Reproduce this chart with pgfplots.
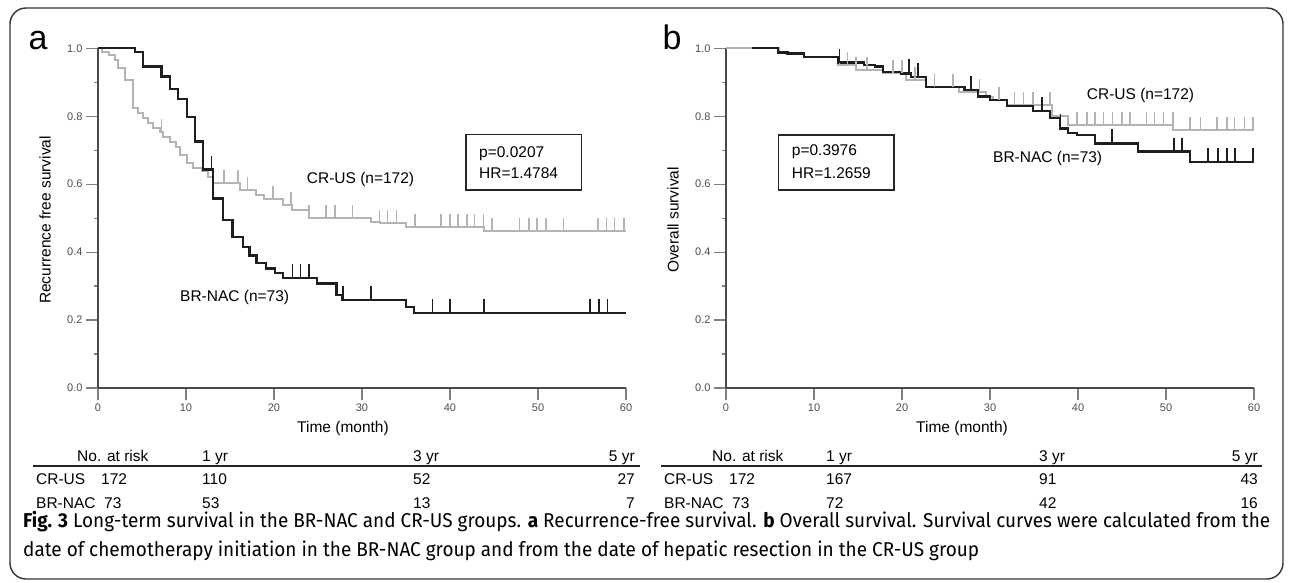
\documentclass[border=0pt]{standalone}
\usepackage{pgfplots}
\pgfplotsset{compat=1.18}
\usepackage{fontspec}
\setmainfont{Liberation Sans}
\newfontfamily\capfont{Fira Sans}

\definecolor{crus}{HTML}{B4B4B4}
\definecolor{brnac}{HTML}{1E1E1E}
\definecolor{axgray}{HTML}{4A4A4A}

% censoring tick: a short upward stroke
\pgfdeclareplotmark{cens}{\pgfpathmoveto{\pgfpointorigin}\pgfpathlineto{\pgfqpoint{0pt}{\pgfplotmarksize}}\pgfusepathqstroke}

\pgfplotsset{
  kmaxis/.style={
    scale only axis, width=528pt, height=339.7pt,
    xmin=0, xmax=60, ymin=0, ymax=1,
    axis x line*=bottom, axis y line*=left,
    axis line style={axgray, line width=1.6pt},
    xtick={0,10,20,30,40,50,60}, ytick={0,0.2,0.4,0.6,0.8,1},
    minor y tick num=1,
    xtick align=outside, ytick align=outside,
    major tick length=12pt, minor tick length=4pt,
    tick style={black!50, line width=1.2pt},
    tick label style={font=\fontsize{11}{13}\selectfont, text=black!70},
    /pgf/number format/assume math mode=true,
    yticklabel style={/pgf/number format/.cd, fixed, fixed zerofill, precision=1},
    clip=false,
  },
  grey line/.style={const plot, no marks, crus, line width=2pt},
  black line/.style={const plot, no marks, brnac, line width=2.3pt},
  grey cens/.style={only marks, mark=cens, mark size=13pt, crus, mark options={line width=1.6pt}},
  black cens/.style={only marks, mark=cens, mark size=14pt, brnac, mark options={line width=1.8pt}},
}

\newcommand{\lbl}{\fontsize{15.5}{19}\selectfont}
\newsavebox\capone
\newsavebox\captwo

\begin{document}
\sbox\capone{\capfont\fontsize{20}{24}\selectfont\textbf{Fig. 3} Long-term survival in the BR-NAC and CR-US groups. \textbf{a} Recurrence-free survival. \textbf{b} Overall survival. Survival curves were calculated from the}%
\sbox\captwo{\capfont\fontsize{20}{24}\selectfont date of chemotherapy initiation in the BR-NAC group and from the date of hepatic resection in the CR-US group}%
\pgfmathsetmacro\capsx{1247/\the\wd\capone}%
\begin{tikzpicture}[x=1pt, y=1pt]
\useasboundingbox (0,0) rectangle (1292,582);
\draw[black!80, line width=1.4pt, rounded corners=16pt] (10,574) rectangle (1283,3);

% ---------------- panel a: recurrence-free survival
\begin{axis}[kmaxis, at={(98pt,194pt)}, anchor=south west]
\addplot[grey line] coordinates {(0,1) (0.4,0.99) (1.2,0.98) (1.9,0.966) (2.3,0.941) (3.1,0.907) (4.0,0.823) (4.6,0.809) (5.1,0.794) (5.7,0.779) (6.3,0.765) (7.0,0.755) (7.4,0.74) (8.2,0.725) (8.9,0.71) (9.3,0.686) (10.1,0.661) (10.8,0.647) (11.8,0.64) (12.5,0.622) (13.1,0.604) (16.1,0.583) (18.0,0.568) (18.9,0.555) (21.0,0.539) (22.1,0.524) (24.0,0.5) (31.0,0.49) (32.0,0.485) (35.0,0.475) (43.9,0.463) (60,0.463)};
\addplot[grey cens] coordinates {(7.2,0.755) (14.3,0.604) (15.9,0.604) (17.0,0.583) (19.9,0.555) (21.9,0.539) (24.0,0.5) (25.9,0.5) (26.9,0.5) (28.9,0.5) (32.0,0.485) (32.9,0.485) (33.9,0.485) (36.0,0.475) (39.0,0.475) (40.0,0.475) (40.9,0.475) (41.9,0.475) (42.8,0.475) (43.8,0.475) (44.8,0.463) (47.9,0.463) (49.0,0.463) (49.9,0.463) (50.9,0.463) (52.9,0.463) (56.8,0.463) (57.8,0.463) (58.7,0.463) (59.8,0.463)};
\addplot[black line] coordinates {(0,1) (4.2,0.99) (5.1,0.946) (7.2,0.917) (8.2,0.88) (9.1,0.851) (10.1,0.798) (11.0,0.726) (11.9,0.643) (13.1,0.558) (14.2,0.495) (15.3,0.445) (16.5,0.416) (17.2,0.39) (18.0,0.367) (19.1,0.352) (20.1,0.338) (21.0,0.323) (24.9,0.308) (27.1,0.274) (27.8,0.259) (35.0,0.239) (35.9,0.22) (60,0.22)};
\addplot[black cens] coordinates {(12.9,0.643) (22.1,0.323) (23.0,0.323) (24.0,0.323) (27.8,0.259) (31.0,0.259) (38.0,0.22) (40.0,0.22) (43.9,0.22) (55.9,0.22) (56.9,0.22) (57.9,0.22)};
\end{axis}

% ---------------- panel b: overall survival
\begin{axis}[kmaxis, at={(726pt,194pt)}, anchor=south west]
\addplot[grey line] coordinates {(0,1) (6.0,0.985) (8.9,0.975) (12.7,0.951) (14.8,0.936) (17.8,0.926) (20.5,0.907) (22.7,0.887) (26.5,0.872) (29.5,0.858) (30.3,0.848) (31.9,0.833) (37.0,0.8) (38.9,0.774) (50.8,0.759) (60,0.759)};
\addplot[grey cens] coordinates {(12.9,0.951) (13.8,0.951) (14.8,0.936) (16.0,0.936) (19.0,0.926) (20.0,0.926) (21.5,0.907) (23.7,0.887) (25.8,0.887) (28.8,0.872) (31.0,0.848) (32.8,0.833) (33.8,0.833) (34.9,0.833) (36.8,0.833) (39.9,0.774) (41.0,0.774) (41.9,0.774) (42.9,0.774) (43.9,0.774) (45.0,0.774) (45.9,0.774) (47.8,0.774) (48.7,0.774) (49.7,0.774) (50.8,0.774) (52.7,0.759) (53.9,0.759) (55.8,0.759) (56.9,0.759) (57.8,0.759) (58.9,0.759) (59.9,0.759)};
\addplot[black line] coordinates {(2.9,1) (5.9,0.988) (7.0,0.985) (8.9,0.975) (12.7,0.958) (15.7,0.951) (16.9,0.946) (17.8,0.931) (19.9,0.926) (21.0,0.916) (22.7,0.887) (27.1,0.877) (28.6,0.858) (30.0,0.848) (31.9,0.83) (34.9,0.815) (36.8,0.794) (37.95,0.764) (38.9,0.75) (39.85,0.745) (41.9,0.72) (46.85,0.696) (52.7,0.666) (60,0.666)};
\addplot[black cens] coordinates {(12.9,0.958) (20.8,0.926) (21.8,0.916) (27.8,0.877) (35.9,0.815) (38.0,0.764) (43.9,0.72) (50.9,0.696) (51.85,0.696) (54.8,0.666) (55.9,0.666) (56.9,0.666) (57.8,0.666) (59.9,0.666)};
\end{axis}

% panel letters and axis titles
\node[font=\fontsize{34}{40}\selectfont] at (38,541) {a};
\node[font=\fontsize{34}{40}\selectfont] at (672,545) {b};
\node[font=\lbl, rotate=90] at (45,362) {Recurrence free survival};
\node[font=\lbl, rotate=90] at (673,362) {Overall survival};
\node[font=\lbl] at (343,154) {Time (month)};
\node[font=\lbl] at (962,154) {Time (month)};

% curve names and test boxes
\node[font=\lbl, anchor=west, inner sep=0] at (306.7,403) {CR-US (n=172)};
\node[font=\lbl, anchor=west, inner sep=0] at (180,285) {BR-NAC (n=73)};
\node[font=\lbl, anchor=west, inner sep=0] at (1086.7,487) {CR-US (n=172)};
\node[font=\lbl, anchor=west, inner sep=0] at (993,424) {BR-NAC (n=73)};
\draw[black!85, line width=1.1pt] (466,447.7) rectangle (581.7,392);
\node[font=\lbl, anchor=west, inner sep=0] at (479,428.7) {p=0.0207};
\node[font=\lbl, anchor=west, inner sep=0] at (479,408.7) {HR=1.4784};
\draw[black!85, line width=1.1pt] (778.3,447) rectangle (894,392);
\node[font=\lbl, anchor=west, inner sep=0] at (791.7,430) {p=0.3976};
\node[font=\lbl, anchor=west, inner sep=0] at (791.7,408.7) {HR=1.2659};

% numbers at risk
\begin{scope}[every node/.style={font=\lbl, inner sep=0}]
\node[anchor=base west] at (77,121) {No. at risk};
\node[anchor=base west] at (202,121) {1 yr};
\node[anchor=base west] at (413,121) {3 yr};
\node[anchor=base east] at (635,121) {5 yr};
\draw[black!85, line width=1.1pt] (33,116) -- (640,116);
\node[anchor=base west] at (36,98) {CR-US};
\node[anchor=base west] at (101,98) {172};
\node[anchor=base west] at (202,98) {110};
\node[anchor=base west] at (413,98) {52};
\node[anchor=base east] at (635,98) {27};
\node[anchor=base west] at (36,74) {BR-NAC};
\node[anchor=base west] at (104,74) {73};
\node[anchor=base west] at (202,74) {53};
\node[anchor=base west] at (413,74) {13};
\node[anchor=base east] at (635,74) {7};
% panel b
\node[anchor=base west] at (712,121) {No. at risk};
\node[anchor=base west] at (826,121) {1 yr};
\node[anchor=base west] at (1039,121) {3 yr};
\node[anchor=base east] at (1258,121) {5 yr};
\draw[black!85, line width=1.1pt] (661,116) -- (1262,116);
\node[anchor=base west] at (664,98) {CR-US};
\node[anchor=base west] at (729,98) {172};
\node[anchor=base west] at (826,98) {167};
\node[anchor=base west] at (1039,98) {91};
\node[anchor=base east] at (1258,98) {43};
\node[anchor=base west] at (664,74) {BR-NAC};
\node[anchor=base west] at (732,74) {73};
\node[anchor=base west] at (826,74) {72};
\node[anchor=base west] at (1039,74) {42};
\node[anchor=base east] at (1258,74) {16};
\end{scope}

% caption
\node[anchor=base west, inner sep=0, text=black!85] at (23,55) {\scalebox{\capsx}[1]{\usebox\capone}};
\node[anchor=base west, inner sep=0, text=black!85] at (23,26) {\scalebox{\capsx}[1]{\usebox\captwo}};
\end{tikzpicture}
\end{document}
